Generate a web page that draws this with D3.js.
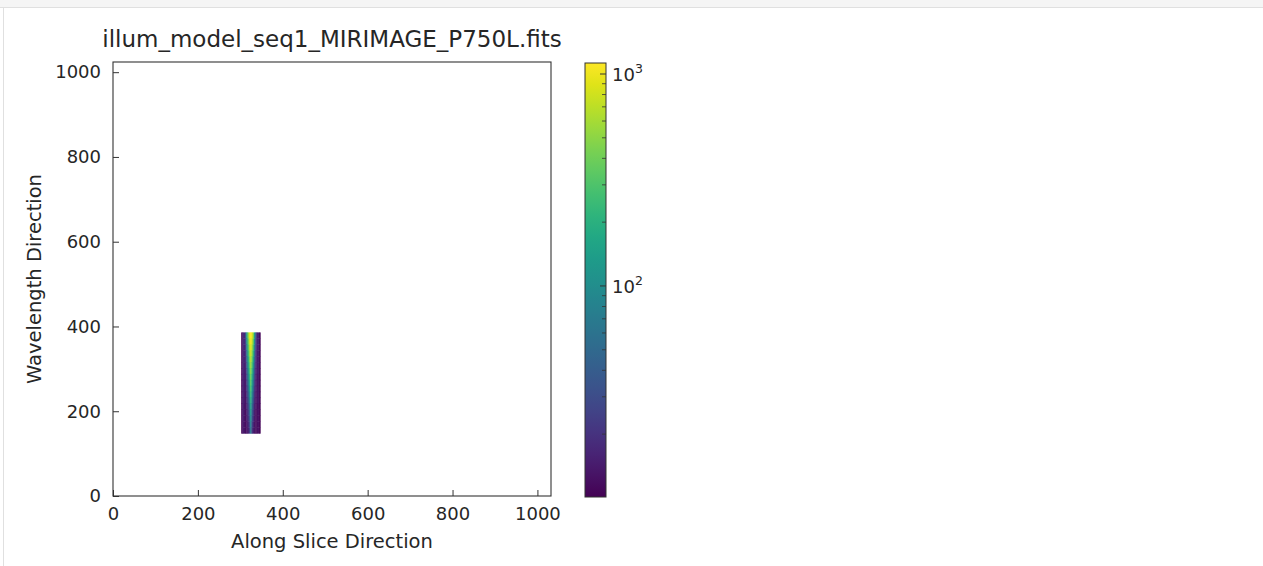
<!DOCTYPE html>
<html>
<head>
<meta charset="utf-8">
<script src="https://cdn.jsdelivr.net/npm/d3@7"></script>
<style>
  body { margin: 0; background: #fff; }
  text { font-family: "DejaVu Sans", sans-serif; fill: #262626; }
</style>
</head>
<body>
<svg id="chart"></svg>
<script>

// detector size (pixels) and the illuminated slice window
var detX = [0, 1032],
    detY = [0, 1024];
var sliceX = [302, 347],
    sliceY = [148, 386];

var xTicks = [0, 200, 400, 600, 800, 1000];
var yTicks = [0, 200, 400, 600, 800, 1000];
var cbarMajor = [100, 1000];
var cbarMinor = [20, 30, 40, 50, 60, 70, 80, 90, 200, 300, 400, 500, 600, 700, 800, 900];
var cbarRange = [10.1, 1127];

// illumination values, rows from top (long wavelength) to bottom, 15 columns across slice
var illum = [
  [11, 19, 17, 35, 150, 500, 950, 1120, 950, 500, 150, 35, 15, 16, 11],
  [11, 19, 17, 28, 110, 380, 800, 1000, 800, 380, 110, 28, 15, 16, 11],
  [11, 19, 16, 24,  85, 290, 650,  880, 650, 290,  85, 24, 15, 16, 11],
  [11, 18, 16, 21,  65, 220, 520,  760, 520, 220,  65, 21, 14, 15, 11],
  [11, 18, 16, 19,  52, 170, 420,  650, 420, 170,  52, 19, 14, 15, 11],
  [11, 18, 15, 17,  42, 130, 340,  550, 340, 130,  42, 17, 14, 15, 11],
  [11, 18, 15, 16,  35, 100, 270,  470, 270, 100,  35, 16, 14, 15, 11],
  [11, 17, 15, 15,  30,  80, 210,  400, 210,  80,  30, 15, 13, 14, 11],
  [11, 17, 14, 14,  26,  62, 165,  340, 165,  62,  26, 14, 13, 14, 11],
  [11, 17, 14, 14,  22,  50, 130,  285, 130,  50,  22, 14, 13, 14, 11],
  [11, 17, 14, 13,  20,  40, 100,  240, 100,  40,  20, 13, 13, 14, 11],
  [11, 16, 14, 13,  18,  33,  78,  200,  78,  33,  18, 13, 13, 14, 11],
  [11, 16, 13, 13,  16,  27,  60,  165,  60,  27,  16, 13, 12, 13, 11],
  [11, 16, 13, 12,  15,  23,  47,  135,  47,  23,  15, 12, 12, 13, 11],
  [11, 16, 13, 12,  14,  20,  38,  110,  38,  20,  14, 12, 12, 13, 11],
  [11, 15, 13, 12,  13,  17,  30,   88,  30,  17,  13, 12, 12, 13, 11],
  [11, 15, 13, 12,  13,  15,  25,   70,  25,  15,  13, 12, 12, 13, 11]
];

var W = 1263, H = 566;
var plot = {left: 113, right: 551, top: 62, bottom: 496};
var cbar = {left: 585, right: 606, top: 63, bottom: 497};

var svg = d3.select("#chart").attr("width", W).attr("height", H);

// notebook cell chrome
svg.append("rect").attr("x", 0).attr("y", 0).attr("width", W).attr("height", 7).style("fill", "#f5f5f5");
svg.append("line").attr("x1", 0).attr("x2", W).attr("y1", 7.5).attr("y2", 7.5).style("stroke", "#e0e0e0");
svg.append("line").attr("x1", 3.5).attr("x2", 3.5).attr("y1", 8).attr("y2", H).style("stroke", "#e0e0e0");

var x = d3.scaleLinear().domain(detX).range([plot.left, plot.right]);
var y = d3.scaleLinear().domain(detY).range([plot.bottom, plot.top]);
var color = d3.scaleSequentialLog(d3.interpolateViridis).domain(cbarRange);

// image cells
var nRows = illum.length, nCols = illum[0].length;
var cw = (sliceX[1] - sliceX[0]) / nCols,
    ch = (sliceY[1] - sliceY[0]) / nRows;
var cells = [];
illum.forEach(function(row, i) {
  row.forEach(function(v, j) {
    cells.push({x0: sliceX[0] + j * cw, y1: sliceY[1] - i * ch, v: v});
  });
});

svg.append("g").selectAll("rect")
    .data(cells)
  .enter().append("rect")
    .attr("x", function(d) { return x(d.x0); })
    .attr("y", function(d) { return y(d.y1); })
    .attr("width", x(cw) - x(0) + 0.4)
    .attr("height", y(0) - y(ch) + 0.4)
    .style("fill", function(d) { return color(d.v); });

// axes, ticks pointing inward
var xAxis = d3.axisBottom(x).tickValues(xTicks).tickFormat(d3.format("d"))
    .tickSizeInner(-6).tickSizeOuter(0).tickPadding(11);
var yAxis = d3.axisLeft(y).tickValues(yTicks).tickFormat(d3.format("d"))
    .tickSizeInner(-6).tickSizeOuter(0).tickPadding(12);

var gx = svg.append("g").attr("transform", "translate(0," + plot.bottom + ")").call(xAxis);
var gy = svg.append("g").attr("transform", "translate(" + plot.left + ",0)").call(yAxis);
[gx, gy].forEach(function(g) {
  g.select(".domain").remove();
  g.attr("font-size", null).attr("font-family", null);
  g.selectAll(".tick line").style("stroke", "#333");
  g.selectAll(".tick text").style("font-size", "18px").style("fill", "#262626");
});

svg.append("rect")
    .attr("x", plot.left).attr("y", plot.top)
    .attr("width", plot.right - plot.left).attr("height", plot.bottom - plot.top)
    .style("fill", "none").style("stroke", "#333").style("stroke-width", 1.1);

svg.append("text")
    .attr("x", (plot.left + plot.right) / 2).attr("y", 47)
    .style("text-anchor", "middle").style("font-size", "23px")
    .text("illum_model_seq1_MIRIMAGE_P750L.fits");

svg.append("text")
    .attr("x", (plot.left + plot.right) / 2).attr("y", 548)
    .style("text-anchor", "middle").style("font-size", "19.5px")
    .text("Along Slice Direction");

svg.append("text")
    .attr("transform", "translate(41," + (plot.top + plot.bottom) / 2 + ") rotate(-90)")
    .style("text-anchor", "middle").style("font-size", "19.5px")
    .text("Wavelength Direction");

// colorbar
var cy = d3.scaleLog().domain(cbarRange).range([cbar.bottom, cbar.top]);
var grad = svg.append("defs").append("linearGradient")
    .attr("id", "viridis").attr("x1", 0).attr("y1", 1).attr("x2", 0).attr("y2", 0);
d3.range(0, 1.0001, 0.05).forEach(function(t) {
  grad.append("stop").attr("offset", t).attr("stop-color", d3.interpolateViridis(t));
});
svg.append("rect")
    .attr("x", cbar.left).attr("y", cbar.top)
    .attr("width", cbar.right - cbar.left).attr("height", cbar.bottom - cbar.top)
    .style("fill", "url(#viridis)");

svg.append("g").selectAll("line")
    .data(cbarMinor)
  .enter().append("line")
    .attr("x1", cbar.right - 4).attr("x2", cbar.right)
    .attr("y1", function(d) { return cy(d); }).attr("y2", function(d) { return cy(d); })
    .style("stroke", "#333").style("stroke-width", 0.8);

svg.append("g").selectAll("line")
    .data(cbarMajor)
  .enter().append("line")
    .attr("x1", cbar.right - 6).attr("x2", cbar.right)
    .attr("y1", function(d) { return cy(d); }).attr("y2", function(d) { return cy(d); })
    .style("stroke", "#333").style("stroke-width", 1);

var lab = svg.append("g").selectAll("text")
    .data(cbarMajor)
  .enter().append("text")
    .attr("x", cbar.right + 6)
    .attr("y", function(d) { return cy(d) + 7; })
    .style("font-size", "18px");
lab.append("tspan").text("10");
lab.append("tspan").attr("dy", -8).style("font-size", "12.5px")
    .text(function(d) { return String(Math.round(Math.log10(d))); });

svg.append("rect")
    .attr("x", cbar.left).attr("y", cbar.top)
    .attr("width", cbar.right - cbar.left).attr("height", cbar.bottom - cbar.top)
    .style("fill", "none").style("stroke", "#333").style("stroke-width", 1);

</script>
</body>
</html>
